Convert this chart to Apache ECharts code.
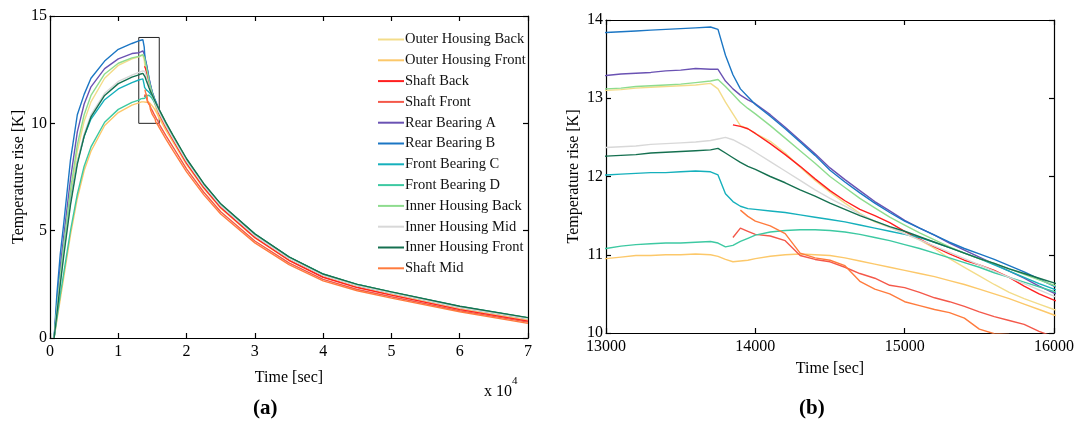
<!DOCTYPE html>
<html>
<head>
<meta charset="utf-8">
<title>Temperature rise</title>
<script src="https://cdn.jsdelivr.net/npm/echarts@6/dist/echarts.min.js"></script>
<style>
  html, body { margin: 0; padding: 0; background: #fff; }
  #chart { width: 1079px; height: 437px; }
</style>
</head>
<body>
<div id="chart"></div>
<script>
// Sample times [s]: heating, detail window, cooling
const timeSec = [
  600, 1000, 1500, 2000, 3000, 4000, 5000, 6000, 8000, 10000, 12000,
  13000, 13100, 13200, 13300, 13400, 13500, 13600, 13700,
  13750, 13800, 13850, 13900, 13950,
  14000, 14100, 14200, 14300, 14400, 14500, 14600, 14700, 14800, 14900, 15000,
  15100, 15200, 15300, 15400, 15500, 15600, 15700, 15800, 15900, 16000,
  17000, 18000, 20000, 22500, 25000, 30000, 35000, 40000, 45000, 50000, 60000, 70000
];

const seriesNames = [
  'Outer Housing Back', 'Outer Housing Front', 'Shaft Back', 'Shaft Front',
  'Rear Bearing A', 'Rear Bearing B', 'Front Bearing C', 'Front Bearing D',
  'Inner Housing Back', 'Inner Housing Mid', 'Inner Housing Front', 'Shaft Mid'
];

const seriesColors = [
  '#f3dc8a', '#fcc86a', '#ff1f1f', '#f4584a',
  '#6a52b3', '#1b76c4', '#15b0bc', '#3dc9a2',
  '#8edc8e', '#d8d8d8', '#157050', '#ff7b3d'
];

// Temperature rise [K] at each sample time
const outerHousingBack = [
  0, 1.2, 2.7, 4.0, 6.6, 8.7, 10.1, 11.0, 12.1, 12.7, 13.0,
  13.10, 13.11, 13.13, 13.14, 13.15, 13.16, 13.17, 13.19,
  13.12, 12.95, 12.80, 12.65, 12.61,
  12.55, 12.45, 12.30, 12.12, 11.95, 11.80, 11.66, 11.53, 11.42, 11.35, 11.27,
  11.19, 11.08, 10.95, 10.84, 10.73, 10.62, 10.52, 10.44, 10.37, 10.30,
  9.72, 9.18, 8.12, 7.00, 6.06, 4.68, 3.63, 2.85, 2.37, 2.03, 1.37, 0.85
];
const outerHousingFront = [
  0, 0.8, 1.8, 2.8, 4.8, 6.5, 7.8, 8.7, 9.9, 10.5, 10.85,
  10.95, 10.97, 10.99, 10.99, 11.00, 11.00, 11.01, 11.00,
  10.98, 10.94, 10.91, 10.92, 10.93,
  10.95, 10.98, 11.00, 11.01, 11.00, 10.99, 10.96, 10.92, 10.88, 10.84, 10.80,
  10.76, 10.72, 10.67, 10.62, 10.56, 10.50, 10.44, 10.37, 10.30, 10.23,
  9.66, 9.13, 8.08, 6.97, 6.04, 4.66, 3.62, 2.84, 2.36, 2.02, 1.36, 0.84
];
const shaftBack = [
  null, null, null, null, null, null, null, null, null, null, null,
  null, null, null, null, null, null, null, null,
  null, null, 12.66, 12.64, 12.61,
  12.55, 12.42, 12.28, 12.13, 11.97, 11.82, 11.69, 11.58, 11.50, 11.41, 11.30,
  11.20, 11.10, 11.01, 10.93, 10.87, 10.80, 10.71, 10.60, 10.50, 10.42,
  9.80, 9.24, 8.15, 7.02, 6.08, 4.68, 3.62, 2.83, 2.35, 2.00, 1.32, 0.78
];
const shaftFront = [
  null, null, null, null, null, null, null, null, null, null, null,
  null, null, null, null, null, null, null, null,
  null, null, 11.22, 11.34, 11.30,
  11.26, 11.24, 11.18, 10.99, 10.94, 10.91, 10.84, 10.76, 10.70, 10.61, 10.58,
  10.52, 10.45, 10.40, 10.34, 10.27, 10.21, 10.16, 10.11, 10.02, 9.95,
  9.42, 8.90, 7.88, 6.80, 5.88, 4.52, 3.50, 2.73, 2.26, 1.92, 1.27, 0.74
];
const rearBearingA = [
  0, 1.6, 3.3, 4.7, 7.4, 9.6, 10.9, 11.7, 12.55, 13.0, 13.25,
  13.29, 13.31, 13.32, 13.33, 13.35, 13.36, 13.38, 13.37,
  13.37, 13.22, 13.12, 13.04, 12.98,
  12.93, 12.79, 12.63, 12.46, 12.29, 12.11, 11.96, 11.82, 11.68, 11.56, 11.44,
  11.34, 11.25, 11.15, 11.06, 10.97, 10.88, 10.79, 10.70, 10.60, 10.51,
  9.90, 9.34, 8.25, 7.11, 6.17, 4.78, 3.72, 2.93, 2.45, 2.10, 1.43, 0.90
];
const rearBearingB = [
  0, 2.0, 3.9, 5.3, 8.3, 10.4, 11.35, 12.1, 12.9, 13.45, 13.72,
  13.84, 13.85, 13.86, 13.87, 13.88, 13.89, 13.90, 13.91,
  13.88, 13.55, 13.30, 13.12, 13.02,
  12.92, 12.77, 12.61, 12.44, 12.27, 12.08, 11.93, 11.79, 11.66, 11.54, 11.43,
  11.34, 11.25, 11.16, 11.08, 11.01, 10.94, 10.86, 10.78, 10.69, 10.60,
  9.98, 9.40, 8.30, 7.15, 6.20, 4.80, 3.74, 2.94, 2.46, 2.11, 1.44, 0.91
];
const frontBearingC = [
  0, 1.3, 2.8, 4.1, 6.4, 8.2, 9.4, 10.2, 11.1, 11.6, 11.9,
  12.02, 12.03, 12.04, 12.05, 12.05, 12.06, 12.07, 12.06,
  12.02, 11.78, 11.68, 11.62, 11.59,
  11.58, 11.56, 11.54, 11.51, 11.48, 11.45, 11.42, 11.38, 11.34, 11.30, 11.26,
  11.22, 11.16, 11.09, 11.02, 10.95, 10.87, 10.79, 10.71, 10.63, 10.56,
  9.96, 9.40, 8.31, 7.17, 6.23, 4.84, 3.77, 2.97, 2.49, 2.14, 1.47, 0.94
];
const frontBearingD = [
  0, 0.9, 2.0, 3.0, 5.0, 6.7, 8.0, 8.9, 10.05, 10.65, 10.98,
  11.08, 11.11, 11.13, 11.14, 11.15, 11.15, 11.16, 11.17,
  11.15, 11.10, 11.12, 11.17, 11.21,
  11.25, 11.29, 11.31, 11.32, 11.32, 11.31, 11.29, 11.26, 11.22, 11.18, 11.13,
  11.08, 11.02, 10.96, 10.90, 10.84, 10.77, 10.71, 10.65, 10.59, 10.53,
  9.94, 9.38, 8.30, 7.16, 6.22, 4.83, 3.77, 2.97, 2.49, 2.14, 1.47, 0.94
];
const innerHousingBack = [
  0, 1.3, 2.9, 4.3, 6.9, 9.0, 10.4, 11.3, 12.3, 12.8, 13.05,
  13.12, 13.13, 13.15, 13.16, 13.17, 13.18, 13.20, 13.22,
  13.24, 13.15, 13.05, 12.95, 12.87,
  12.80, 12.65, 12.49, 12.33, 12.17, 12.00, 11.86, 11.72, 11.60, 11.48, 11.38,
  11.28, 11.19, 11.10, 11.02, 10.95, 10.89, 10.82, 10.75, 10.68, 10.61,
  10.00, 9.43, 8.33, 7.18, 6.23, 4.83, 3.76, 2.96, 2.48, 2.13, 1.46, 0.93
];
const innerHousingMid = [
  0, 1.2, 2.6, 3.9, 6.3, 8.2, 9.5, 10.4, 11.4, 11.95, 12.25,
  12.37, 12.38, 12.39, 12.41, 12.42, 12.43, 12.44, 12.46,
  12.48, 12.50, 12.47, 12.42, 12.37,
  12.31, 12.19, 12.07, 11.95, 11.83, 11.72, 11.62, 11.52, 11.43, 11.35, 11.27,
  11.19, 11.11, 11.03, 10.95, 10.87, 10.79, 10.71, 10.63, 10.55, 10.47,
  9.87, 9.31, 8.23, 7.10, 6.16, 4.77, 3.71, 2.92, 2.44, 2.09, 1.42, 0.89
];
const innerHousingFront = [
  0, 1.1, 2.5, 3.8, 6.2, 8.1, 9.4, 10.3, 11.3, 11.85, 12.15,
  12.26, 12.27, 12.28, 12.30, 12.31, 12.32, 12.33, 12.34,
  12.36, 12.30, 12.24, 12.18, 12.13,
  12.09, 12.00, 11.92, 11.83, 11.75, 11.66, 11.58, 11.50, 11.43, 11.36, 11.30,
  11.23, 11.16, 11.09, 11.02, 10.95, 10.89, 10.82, 10.76, 10.70, 10.64,
  10.02, 9.45, 8.35, 7.20, 6.25, 4.85, 3.78, 2.98, 2.50, 2.15, 1.48, 0.95
];
const shaftMid = [
  null, null, null, null, null, null, null, null, null, null, null,
  null, null, null, null, null, null, null, null,
  null, null, null, 11.57, 11.49,
  11.43, 11.37, 11.27, 11.02, 10.96, 10.93, 10.86, 10.66, 10.56, 10.50, 10.40,
  10.35, 10.30, 10.26, 10.19, 10.05, 9.99, 9.98, 9.92, 9.86, 9.80,
  9.25, 8.74, 7.74, 6.68, 5.78, 4.43, 3.42, 2.66, 2.20, 1.86, 1.22, 0.68
];

const seriesValues = [
  outerHousingBack, outerHousingFront, shaftBack, shaftFront,
  rearBearingA, rearBearingB, frontBearingC, frontBearingD,
  innerHousingBack, innerHousingMid, innerHousingFront, shaftMid
];

// Axis ranges
const fullTimeRange = [0, 70000];
const fullTempRange = [0, 15];
const detailTimeRange = [13000, 16000];
const detailTempRange = [10, 14];

const serif = "'Liberation Serif', 'Times New Roman', 'DejaVu Serif', serif";

function pairs(values) {
  return timeSec.map((t, i) => [t, values[i]]);
}

function mainAxisX(gridIndex, range, interval, bottom, formatter) {
  return {
    type: 'value', gridIndex: gridIndex, min: range[0], max: range[1], interval: interval,
    position: bottom ? 'bottom' : 'top',
    axisLine: { show: true, onZero: false, lineStyle: { color: '#000', width: 1.2 } },
    axisTick: { show: true, inside: true, length: 5, lineStyle: { color: '#000', width: 1.2 } },
    axisLabel: { show: bottom, color: '#000', fontFamily: serif, fontSize: 16, margin: 6, formatter: formatter },
    splitLine: { show: false }
  };
}
function mainAxisY(gridIndex, range, interval, left) {
  return {
    type: 'value', gridIndex: gridIndex, min: range[0], max: range[1], interval: interval,
    position: left ? 'left' : 'right',
    axisLine: { show: true, onZero: false, lineStyle: { color: '#000', width: 1.2 } },
    axisTick: { show: true, inside: true, length: 5, lineStyle: { color: '#000', width: 1.2 } },
    axisLabel: { show: left, color: '#000', fontFamily: serif, fontSize: 16, margin: 3 },
    splitLine: { show: false }
  };
}

const xAxes = [
  Object.assign(mainAxisX(0, fullTimeRange, 10000, true, v => String(v / 10000)), {
    name: 'Time [sec]', nameLocation: 'middle', nameGap: 32,
    nameTextStyle: { color: '#000', fontFamily: serif, fontSize: 16 }
  }),
  mainAxisX(0, fullTimeRange, 10000, false),
  Object.assign(mainAxisX(1, detailTimeRange, 1000, true, v => String(v)), {
    name: 'Time [sec]', nameLocation: 'middle', nameGap: 28,
    nameTextStyle: { color: '#000', fontFamily: serif, fontSize: 16 }
  }),
  mainAxisX(1, detailTimeRange, 1000, false)
];
const yAxes = [
  Object.assign(mainAxisY(0, fullTempRange, 5, true), {
    name: 'Temperature rise [K]', nameLocation: 'middle', nameGap: 21,
    nameTextStyle: { color: '#000', fontFamily: serif, fontSize: 16 }
  }),
  mainAxisY(0, fullTempRange, 5, false),
  Object.assign(mainAxisY(1, detailTempRange, 1, true), {
    name: 'Temperature rise [K]', nameLocation: 'middle', nameGap: 24,
    nameTextStyle: { color: '#000', fontFamily: serif, fontSize: 16 }
  }),
  mainAxisY(1, detailTempRange, 1, false)
];

const series = [];
seriesNames.forEach((name, i) => {
  const overview = {
    name: name, type: 'line', xAxisIndex: 0, yAxisIndex: 0,
    data: pairs(seriesValues[i]), symbol: 'none', connectNulls: false,
    lineStyle: { color: seriesColors[i], width: 1.4 }, itemStyle: { color: seriesColors[i] },
    z: 2
  };
  if (i === 0) {
    // frame showing the detail window
    overview.markArea = {
      silent: true,
      itemStyle: { color: 'rgba(0,0,0,0)', borderColor: '#222', borderWidth: 1 },
      data: [[
        { xAxis: detailTimeRange[0], yAxis: detailTempRange[0] },
        { xAxis: detailTimeRange[1], yAxis: detailTempRange[1] }
      ]]
    };
  }
  series.push(overview);
  series.push({
    name: name, type: 'line', xAxisIndex: 2, yAxisIndex: 2,
    data: pairs(seriesValues[i]), symbol: 'none', clip: true,
    lineStyle: { color: seriesColors[i], width: 1.4 }, itemStyle: { color: seriesColors[i] },
    z: 2
  });
});

const chart = echarts.init(document.getElementById('chart'), null, { renderer: 'canvas' });
chart.setOption({
  animation: false,
  backgroundColor: '#fff',
  grid: [
    { left: 50, top: 16, width: 478, height: 322 },
    { left: 606, top: 20, width: 448, height: 313 }
  ],
  xAxis: xAxes,
  yAxis: yAxes,
  legend: {
    data: seriesNames,
    orient: 'vertical', left: 373, top: 27,
    itemWidth: 26, itemHeight: 14, itemGap: 5.8,
    icon: 'path://M0,6 L26,6 L26,8 L0,8 Z',
    textStyle: { color: '#111', fontFamily: serif, fontSize: 14.5, padding: [0, 0, 0, -4] },
    selectedMode: false
  },
  graphic: [
    {
      type: 'text', left: 484, top: 376,
      style: {
        text: '{a|x 10}{b|4}',
        rich: {
          a: { fontFamily: serif, fontSize: 16, fill: '#000', padding: [8, 0, 0, 0] },
          b: { fontFamily: serif, fontSize: 11, fill: '#000', verticalAlign: 'top' }
        }
      }
    },
    {
      type: 'text', left: 253, top: 398,
      style: { text: '(a)', fontFamily: serif, fontWeight: 'bold', fontSize: 21, fill: '#000' }
    },
    {
      type: 'text', left: 799, top: 398,
      style: { text: '(b)', fontFamily: serif, fontWeight: 'bold', fontSize: 21, fill: '#000' }
    }
  ],
  series: series
});
</script>
</body>
</html>
